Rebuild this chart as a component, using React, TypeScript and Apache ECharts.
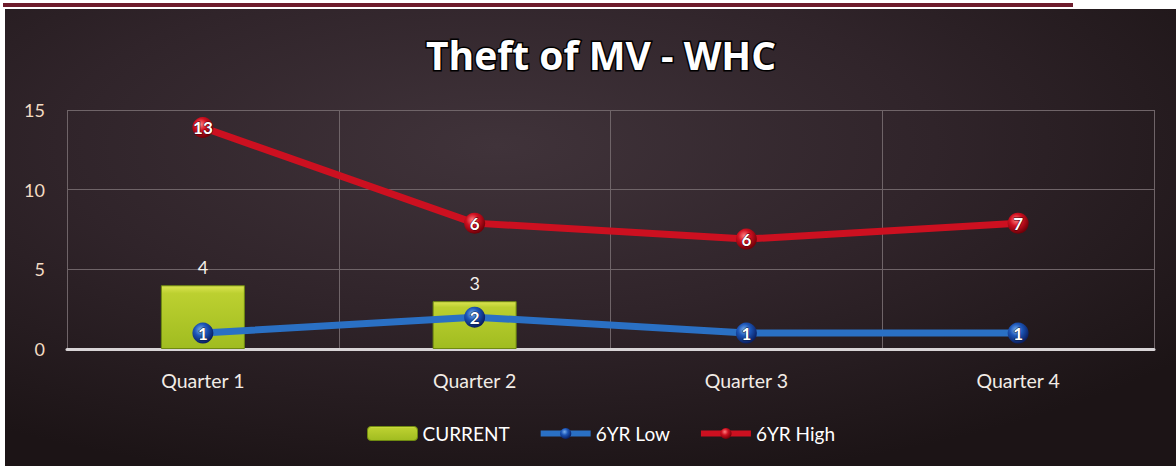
import React, { useEffect, useRef } from "react";
import * as echarts from "echarts";

const categories = ["Quarter 1", "Quarter 2", "Quarter 3", "Quarter 4"];
const currentValues: (number | null)[] = [4, 3, null, null];
const lowValues = [1, 2, 1, 1];
const lowLabels = ["1", "2", "1", "1"];
const highValues = [13.9, 7.9, 6.9, 7.9];
const highLabels = ["13", "6", "6", "7"];
const yTicks = { min: 0, max: 15, interval: 5 };

const FONT = "Lato, 'Open Sans', sans-serif";

export default function App() {
  const ref = useRef<HTMLDivElement>(null);
  useEffect(() => {
    if (!ref.current) return;
    const chart = echarts.init(ref.current, null, { renderer: "svg" });
    const ball = (light: string, mid: string, dark: string) =>
      new echarts.graphic.RadialGradient(0.4, 0.35, 0.65, [
        { offset: 0, color: light },
        { offset: 0.45, color: mid },
        { offset: 1, color: dark },
      ]);
    chart.setOption({
      animation: false,
      backgroundColor: "#ffffff",
      textStyle: { fontFamily: FONT },
      graphic: [
        {
          type: "rect",
          z: -100,
          shape: { x: 3, y: 3, width: 1070, height: 4 },
          style: { fill: "#6e1c2c" },
        },
        {
          type: "rect",
          z: -100,
          shape: { x: 5, y: 9, width: 1171, height: 457 },
          style: {
            fill: new echarts.graphic.RadialGradient(0.42, 0.3, 0.75, [
              { offset: 0, color: "#40333a" },
              { offset: 0.5, color: "#30242a" },
              { offset: 1, color: "#1c1416" },
            ]),
          },
        },
      ],
      title: {
        text: "Theft of MV - WHC",
        left: 596,
        textAlign: "center",
        top: 30,
        textStyle: {
          color: "#ffffff",
          fontSize: 39,
          fontWeight: "bold",
          fontFamily: "'Open Sans', Lato, sans-serif",
          textBorderColor: "#000000",
          textBorderWidth: 3,
        },
      },
      legend: {
        left: 362,
        top: 419,
        itemWidth: 50,
        itemHeight: 14,
        itemGap: 28,
        textStyle: { color: "#ffffff", fontSize: 19, fontFamily: FONT },
        data: [
          { name: "CURRENT", itemStyle: { borderWidth: 1 } },
          { name: "6YR Low", lineStyle: { width: 6 } },
          { name: "6YR High", lineStyle: { width: 6 } },
        ],
      },
      grid: { left: 67, right: 22, top: 110, bottom: 117, containLabel: false },
      xAxis: {
        type: "category",
        data: categories,
        boundaryGap: true,
        axisLine: { lineStyle: { color: "#d8d4d6", width: 3 } },
        axisTick: { show: false },
        axisLabel: { color: "#f2ece6", fontSize: 19.5, margin: 21, fontFamily: FONT },
        splitLine: { show: true, lineStyle: { color: "#6f6468", width: 1 } },
      },
      yAxis: {
        type: "value",
        min: yTicks.min,
        max: yTicks.max,
        interval: yTicks.interval,
        axisLine: { show: false },
        axisTick: { show: false },
        axisLabel: { color: "#f3dcc4", fontSize: 18, margin: 22, fontFamily: FONT },
        splitLine: { lineStyle: { color: "#6f6468", width: 1 } },
      },
      series: [
        {
          name: "CURRENT",
          type: "bar",
          data: currentValues,
          barWidth: 84,
          itemStyle: {
            color: new echarts.graphic.LinearGradient(0, 0, 0, 1, [
              { offset: 0, color: "#dce552" },
              { offset: 0.12, color: "#bcd030" },
              { offset: 1, color: "#a0bc20" },
            ]),
            borderColor: "#6f8a10",
            borderWidth: 1,
          },
          label: {
            show: true,
            position: "top",
            distance: 9,
            color: "#f4f0ec",
            fontSize: 18,
            fontFamily: FONT,
          },
          z: 2,
        },
        {
          name: "6YR Low",
          type: "line",
          data: lowValues,
          symbol: "circle",
          symbolSize: 21,
          lineStyle: { color: "#2a70c4", width: 7 },
          itemStyle: { color: ball("#7ab0f0", "#1c56b8", "#0a1e60") },
          label: {
            show: true,
            position: "inside",
            color: "#ffffff",
            fontSize: 17,
            fontWeight: "bold",
            fontFamily: FONT,
            textBorderColor: "#0a1a40",
            textBorderWidth: 1,
            formatter: (p: any) => lowLabels[p.dataIndex],
          },
          z: 3,
        },
        {
          name: "6YR High",
          type: "line",
          data: highValues,
          symbol: "circle",
          symbolSize: 21,
          lineStyle: { color: "#cc1020", width: 7 },
          itemStyle: { color: ball("#ff8080", "#d01020", "#700008") },
          label: {
            show: true,
            position: "inside",
            color: "#ffffff",
            fontSize: 17,
            fontWeight: "bold",
            fontFamily: FONT,
            textBorderColor: "#400008",
            textBorderWidth: 1,
            formatter: (p: any) => highLabels[p.dataIndex],
          },
          z: 4,
        },
      ],
    });
    return () => chart.dispose();
  }, []);
  return (
    <div
      ref={ref}
      style={{ position: "fixed", left: 0, top: 0, width: 1176, height: 466 }}
    />
  );
}
